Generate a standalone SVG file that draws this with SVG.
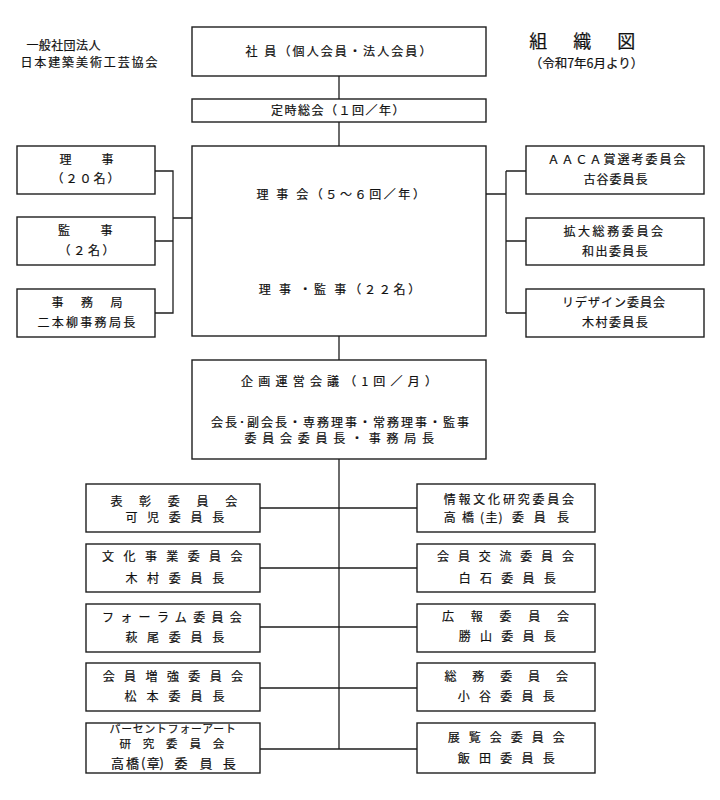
<svg xmlns="http://www.w3.org/2000/svg" width="720" height="800" viewBox="0 0 720 800">
<style>
.bx{fill:#fff;stroke:#1e1e1e;stroke-width:1.4}
.cn{fill:none;stroke:#1e1e1e;stroke-width:1.3}
text{font-family:"Noto Sans CJK JP","Noto Sans CJK SC",sans-serif;font-size:12px;fill:#111;stroke:#111;stroke-width:0.2}
.m{text-anchor:middle}
.ttl{font-size:18px}
.sub{font-size:12.5px}
.s11{font-size:10.8px}
.s115{font-size:11.5px}
.s13{font-size:13px}
</style>
<rect width="720" height="800" fill="#fff"/>
<g id="header">
<text x="26.4" y="50" letter-spacing="0.4">一般社団法人</text>
<text x="20.4" y="66.6" letter-spacing="1.9">日本建築美術工芸協会</text>
<text class="ttl" x="529.3" y="47.5" letter-spacing="26">組織図</text>
<text class="m sub" x="586.5" y="68">（令和7年6月より）</text>
</g>
<g id="connectors">
<path class="cn" d="M339,76V99M339,122V146M339,336V360M339,459V749"/>
<path class="cn" d="M155,171H173V313H155M155,241H173M173,218H192"/>
<path class="cn" d="M486,194H506M506,171V313M506,171H526M506,241H526M506,313H526"/>
<path class="cn" d="M260,508H417M260,568H417M260,627H417M260,688H417M260,749H417"/>
</g>
<g id="n_shain"><rect class="bx" x="192" y="27" width="294" height="49"/>
<text class="m" x="339.5" y="56" letter-spacing="2.1">社 員（個人会員・法人会員）</text></g>
<g id="n_teiji"><rect class="bx" x="192" y="99" width="294" height="23"/>
<text x="271.1" y="114.9" letter-spacing="1.5">定時総会（１回／年）</text></g>
<g id="n_rijikai"><rect class="bx" x="192" y="146" width="294" height="190"/>
<text x="256.4" y="198.6" letter-spacing="2.6">理 事 会（５～６回／年）</text>
<text x="258.7" y="293.6" letter-spacing="2.8">理 事 ・監 事（２２名）</text></g>
<g id="n_riji"><rect class="bx" x="17" y="146" width="138" height="48"/>
<text x="59.4" y="163.6" letter-spacing="30">理事</text>
<text class="m" x="86.5" y="182.6" letter-spacing="2">（２０名）</text></g>
<g id="n_kanji"><rect class="bx" x="17" y="217" width="138" height="48"/>
<text x="58" y="234.6" letter-spacing="30.5">監事</text>
<text class="m" x="87.9" y="254.6" letter-spacing="2.7">（２名）</text></g>
<g id="n_jimukyoku"><rect class="bx" x="17" y="289" width="138" height="48"/>
<text x="51.4" y="306.6" letter-spacing="17.5">事務局</text>
<text x="37.4" y="326.6" letter-spacing="2.3">二本柳事務局長</text></g>
<g id="n_aaca"><rect class="bx" x="526" y="146" width="178" height="48"/>
<text class="m" x="617.5" y="163.6" letter-spacing="2">ＡＡＣＡ賞選考委員会</text>
<text x="583.4" y="183.6" letter-spacing="1">古谷委員長</text></g>
<g id="n_kakudai"><rect class="bx" x="526" y="218" width="178" height="47"/>
<text x="563.4" y="236" letter-spacing="2.6">拡大総務委員会</text>
<text x="582.1" y="255.6" letter-spacing="1.4">和出委員長</text></g>
<g id="n_redesign"><rect class="bx" x="526" y="289" width="178" height="48"/>
<text class="m" x="614" y="306.6" letter-spacing="1">リデザイン委員会</text>
<text x="582.1" y="326.6" letter-spacing="1.4">木村委員長</text></g>
<g id="n_kikaku"><rect class="bx" x="192" y="360" width="294" height="99"/>
<text x="241.1" y="386.3" letter-spacing="5.2">企画運営会議（1回／月）</text>
<text x="211.1" y="427.3" letter-spacing="2">会長･副会長・専務理事・常務理事・監事</text>
<text class="m" x="342.1" y="443" letter-spacing="5.75">委員会委員長・事務局長</text></g>
<g id="n_hyosho"><rect class="bx" x="86" y="484" width="174" height="48"/>
<text x="110.4" y="505.9" letter-spacing="16.7">表彰委員会</text>
<text x="125.4" y="521.9" letter-spacing="9.7">可児委員長</text></g>
<g id="n_bunka"><rect class="bx" x="86" y="544" width="174" height="48"/>
<text x="102.1" y="561.3" letter-spacing="9.4">文化事業委員会</text>
<text x="125.4" y="582.9" letter-spacing="9.7">木村委員長</text></g>
<g id="n_forum"><rect class="bx" x="86" y="604" width="174" height="48"/>
<text x="102" y="621.9" letter-spacing="6.3">フォーラム委員会</text>
<text x="125.4" y="641.9" letter-spacing="9.7">萩尾委員長</text></g>
<g id="n_zokyo"><rect class="bx" x="86" y="663" width="174" height="48"/>
<text x="102.7" y="681.3" letter-spacing="9.4">会員増強委員会</text>
<text x="124.4" y="701.3" letter-spacing="10">松本委員長</text></g>
<g id="n_percent"><rect class="bx" x="86" y="723" width="174" height="50"/>
<text class="s11" x="109.5" y="732.8" letter-spacing="0.85">パーセントフォーアート</text>
<text class="s115" x="119.5" y="748" letter-spacing="11.8">研究委員会</text>
<text class="s13" x="111 126 141 146.7 159.5 174.4 199.4 222.7" y="767.6">高橋(章)委員長</text></g>
<g id="n_joho"><rect class="bx" x="417" y="484" width="178" height="48"/>
<text x="443.7" y="504.3" letter-spacing="2.8">情報文化研究委員会</text>
<text x="443.7 462.1 480 485.4 498.5 512.1 533.7 557.1" y="521.9">高橋(圭)委員長</text></g>
<g id="n_koryu"><rect class="bx" x="417" y="544" width="178" height="48"/>
<text x="437.1" y="561.3" letter-spacing="8.8">会員交流委員会</text>
<text x="458.7" y="582.9" letter-spacing="9.25">白石委員長</text></g>
<g id="n_koho"><rect class="bx" x="417" y="604" width="178" height="48"/>
<text x="442.1" y="621.3" letter-spacing="16.75">広報委員会</text>
<text x="458.7" y="641.3" letter-spacing="9.25">勝山委員長</text></g>
<g id="n_somu"><rect class="bx" x="417" y="663" width="178" height="48"/>
<text x="444.4" y="681.3" letter-spacing="15.9">総務委員会</text>
<text x="457.7" y="701.3" letter-spacing="9.25">小谷委員長</text></g>
<g id="n_tenran"><rect class="bx" x="417" y="723" width="178" height="50"/>
<text x="447.7" y="742.3" letter-spacing="9">展覧会委員会</text>
<text x="457.7" y="762.9" letter-spacing="9.25">飯田委員長</text></g>
</svg>
